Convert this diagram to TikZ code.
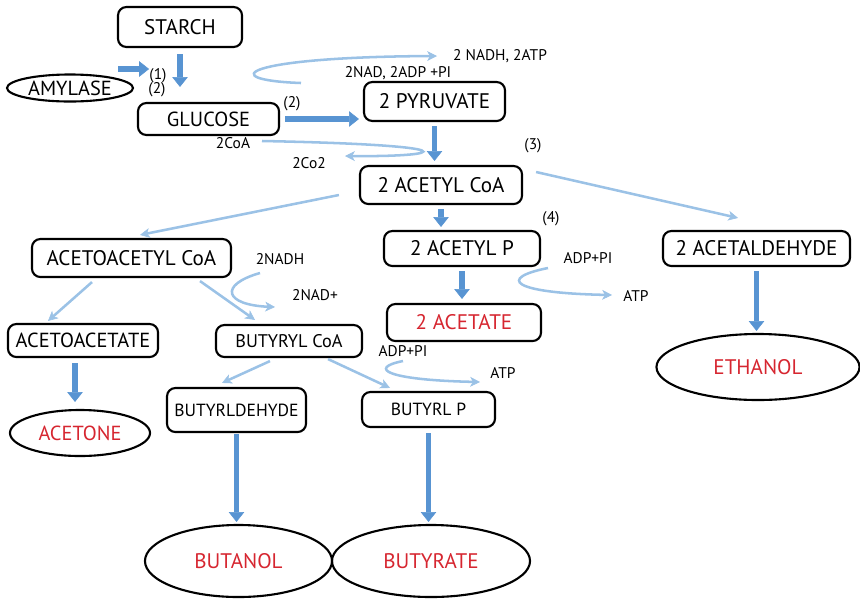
\documentclass[tikz,border=0pt]{standalone}
\usepackage{fontspec}
\setmainfont{PT Sans}
\usepackage{tikz}
\usetikzlibrary{arrows.meta, positioning, calc, shapes.geometric}
\definecolor{fatblue}{RGB}{88,148,210}
\definecolor{paleblue}{RGB}{155,194,230}
\definecolor{prodred}{RGB}{214,38,48}
\tikzset{
  box/.style={rectangle, draw=black, rounded corners=6pt, line width=1.5pt,
    inner sep=2pt, font=\fontsize{15}{17}\selectfont},
  prodbox/.style={ellipse, draw=black, line width=1.5pt, inner sep=0pt,
    text=prodred, font=\fontsize{15}{17}\selectfont},
  fatarrow/.style={-{Triangle[width=11pt,length=7pt,line width=0.4pt]}, line width=4pt, color=fatblue},
  thinarrow/.style={-{Stealth[width=7pt,length=7pt,inset=2pt,line width=0.4pt]}, line width=1.8pt, color=paleblue},
  note/.style={font=\fontsize{11}{12}\selectfont, inner sep=1pt}
}
\begin{document}
\begin{tikzpicture}[x=0.025cm, y=-0.025cm]
  \useasboundingbox (0,0) rectangle (860,600);
  % Boxes
  \node[box, minimum width=3.1cm, minimum height=1.0cm] (starch) at (180,27) {STARCH};
  \node[prodbox, text=black, minimum width=3.15cm, minimum height=0.675cm, font=\fontsize{14.5}{16}\selectfont] (amylase) at (70,88) {AMYLASE};
  \node[box, minimum width=3.525cm, minimum height=0.8cm, font=\fontsize{14.5}{16}\selectfont] (glucose) at (208.5,119) {GLUCOSE};
  \node[box, minimum width=3.525cm, minimum height=0.975cm] (pyruvate) at (434.5,101.5) {2 PYRUVATE};
  \node[box, minimum width=4.05cm, minimum height=0.95cm] (acetylcoa) at (441,185) {2 ACETYL CoA};
  \node[box, minimum width=4.975cm, minimum height=0.95cm] (acetoacetyl) at (131.5,258) {ACETOACETYL CoA};
  \node[box, minimum width=3.9cm, minimum height=0.875cm] (acetylp) at (462,248.5) {2 ACETYL P};
  \node[box, minimum width=4.675cm, minimum height=0.875cm] (acetaldehyde) at (756.5,248.5) {2 ACETALDEHYDE};
  \node[box, text=prodred, minimum width=3.85cm, minimum height=0.925cm] (acetate) at (464,322.5) {2 ACETATE};
  \node[box, minimum width=3.75cm, minimum height=0.825cm, font=\fontsize{14.5}{16}\selectfont] (acetoacetate) at (83,340.5) {ACETOACETATE};
  \node[box, minimum width=3.65cm, minimum height=0.8cm, font=\fontsize{13}{15}\selectfont] (butyrylcoa) at (289,341) {BUTYRYL CoA};
  \node[box, minimum width=3.475cm, minimum height=1.1cm, font=\fontsize{12.5}{14}\selectfont] (butyrldehyde) at (236.5,410) {BUTYRLDEHYDE};
  \node[box, minimum width=3.325cm, minimum height=0.875cm, font=\fontsize{12.5}{14}\selectfont] (butyrlp) at (428.5,409.5) {BUTYRL P};
  % Products
  \node[prodbox, minimum width=3.5cm, minimum height=1.15cm, font=\fontsize{14.5}{16}\selectfont] (acetone) at (80,433) {ACETONE};
  \node[prodbox, minimum width=5.075cm, minimum height=1.65cm] (ethanol) at (758,367) {ETHANOL};
  \node[prodbox, minimum width=4.675cm, minimum height=1.8cm] (butanol) at (238.5,561) {BUTANOL};
  \node[prodbox, minimum width=4.95cm, minimum height=1.8cm] (butyrate) at (431,561) {BUTYRATE};
  % Labels
  \node[note] (lab1) at (158,76) {(1)};
  \node[note] (lab2) at (157,90) {(2)};
  \node[note] (lab2b) at (292,104) {(2)};
  \node[note] (nadin) at (398,73) {2NAD, 2ADP +PI};
  \node[note] (nadhout) at (500,56) {2 NADH, 2ATP};
  \node[note] (coain) at (233,143) {2CoA};
  \node[note] (cotwo) at (309,163) {2Co2};
  \node[note] (lab3) at (533,146) {(3)};
  \node[note] (lab4) at (551,219) {(4)};
  \node[note] (nadh) at (280,259) {2NADH};
  \node[note] (nadplus) at (315,295) {2NAD+};
  \node[note] (adpa) at (588,258) {ADP+PI};
  \node[note] (atpa) at (636,296) {ATP};
  \node[note] (adpb) at (403,351) {ADP+PI};
  \node[note] (atpb) at (503,373) {ATP};
  % Main arrows
  \draw[fatarrow, shorten <=0.15cm, shorten >=0.375cm] (starch.south) -- (starch.south |- glucose.north);
  \draw[fatarrow] ([shift={(-16,-19)}]amylase.east) -- ++(31,0);
  \draw[fatarrow, shorten <=0.125cm, shorten >=0.1cm] (glucose.east) -- (glucose.east -| pyruvate.west);
  \draw[fatarrow, shorten <=0.1cm, shorten >=0.1cm] (pyruvate.south) -- (pyruvate.south |- acetylcoa.north);
  \draw[fatarrow, shorten <=0.1cm, shorten >=0.075cm] (acetylcoa.south) -- (acetylcoa.south |- acetylp.north);
  \draw[fatarrow, shorten <=0.1cm, shorten >=0.1cm] (acetylp.south) -- (acetylp.south |- acetate.north);
  \draw[fatarrow, shorten <=0.125cm, shorten >=0.175cm] ([shift={(-8,0)}]acetoacetate.south) -- ([shift={(-8,0)}]acetoacetate.south |- acetone.north);
  \draw[fatarrow, shorten <=1pt, shorten >=0.05cm] (butyrldehyde.south) -- (butyrldehyde.south |- butanol.north);
  \draw[fatarrow, shorten <=0.125cm, shorten >=0.05cm] (butyrlp.south) -- (butyrlp.south |- butyrate.north);
  \draw[fatarrow, shorten <=0.1cm, shorten >=0.05cm] (acetaldehyde.south) -- (acetaldehyde.south |- ethanol.north);
  % Branches
  \draw[thinarrow] ([shift={(-20,10)}]acetylcoa.west) -- ([shift={(8.5,-3)}]acetoacetyl.north);
  \draw[thinarrow] ([shift={(13,-13)}]acetylcoa.east) -- ([shift={(-18.5,-12)}]acetaldehyde.north);
  \draw[thinarrow] ([shift={(-39.5,4)}]acetoacetyl.south) -- ([shift={(-35,-2)}]acetoacetate.north);
  \draw[thinarrow] ([shift={(68.5,3)}]acetoacetyl.south) -- ([shift={(-34,-4)}]butyrylcoa.north);
  \draw[thinarrow] ([shift={(-19,3)}]butyrylcoa.south) -- ([shift={(-14.5,-4)}]butyrldehyde.north);
  \draw[thinarrow] ([shift={(39,1)}]butyrylcoa.south) -- ([shift={(-38.5,-3)}]butyrlp.north);
  % Side reactions
  \coordinate (glyin) at (301,83);
  \coordinate (glyout) at (437,56);
  \draw[thinarrow] (glyin) .. controls (215,80) and (240,57) .. (glyout);
  \coordinate (coa1) at (262,141);
  \coordinate (coa2) at (345,156);
  \draw[thinarrow] (coa1) .. controls (470,145) and (450,157) .. (coa2);
  \coordinate (nadh1) at (260,273);
  \coordinate (nadh2) at (275,307);
  \draw[thinarrow] (nadh1) .. controls (218,285) and (225,305) .. (nadh2);
  \coordinate (adpa1) at (548,268);
  \coordinate (adpa2) at (612,295);
  \draw[thinarrow] (adpa1) .. controls (498,278) and (510,293) .. (adpa2);
  \coordinate (adpb1) at (403,361);
  \coordinate (adpb2) at (480,382);
  \draw[thinarrow] (adpb1) .. controls (368,368) and (385,380) .. (adpb2);
\end{tikzpicture}
\end{document}
